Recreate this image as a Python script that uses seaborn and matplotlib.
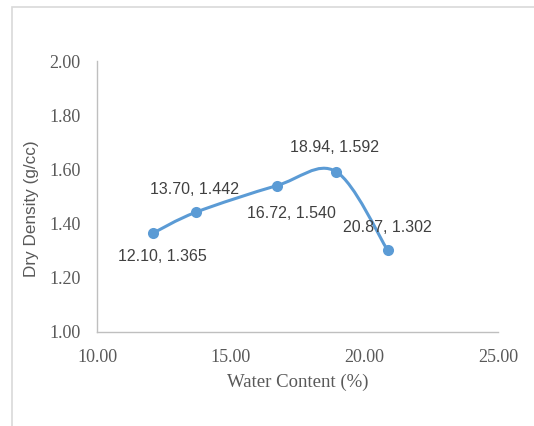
import matplotlib
matplotlib.use("Agg")
import matplotlib.pyplot as plt
import seaborn as sns
import pandas as pd
import numpy as np
from matplotlib.path import Path
from matplotlib.patches import PathPatch, Rectangle

water_content = [12.10, 13.70, 16.72, 18.94, 20.87]
dry_density = [1.365, 1.442, 1.540, 1.592, 1.302]
point_labels = ["12.10, 1.365", "13.70, 1.442", "16.72, 1.540", "18.94, 1.592", "20.87, 1.302"]
# label offsets in points (dx, dy)
label_offsets = [(7, -17), (-1, 16), (11, -20), (-1, 17), (0, 16)]

blue = "#5B9BD5"
grey_text = "#595959"

sns.set_style("white")
fig = plt.figure(figsize=(5.34, 4.26), dpi=100)
ax = fig.add_axes([97 / 534, 1 - 332 / 426, 401 / 534, 271 / 426])

df = pd.DataFrame({"w": water_content, "d": dry_density})

ax.set_xlim(10, 25)
ax.set_ylim(1.0, 2.0)

# Excel-style smoothed line: cubic Bezier through the points (Catmull-Rom),
# control points computed in screen space so the shape matches.
sx, sy = 401 / 15, 271 / 1.0
px = (df["w"].to_numpy() - 10) * sx
py = (df["d"].to_numpy() - 1.0) * sy
verts = [(px[0], py[0])]
codes = [Path.MOVETO]
n = len(px)
for i in range(n - 1):
    p0 = np.array([px[max(i - 1, 0)], py[max(i - 1, 0)]])
    p1 = np.array([px[i], py[i]])
    p2 = np.array([px[i + 1], py[i + 1]])
    p3 = np.array([px[min(i + 2, n - 1)], py[min(i + 2, n - 1)]])
    c1 = p1 + (p2 - p0) / 6
    c2 = p2 - (p3 - p1) / 6
    verts += [tuple(c1), tuple(c2), tuple(p2)]
    codes += [Path.CURVE4] * 3
verts = [(vx / sx + 10, vy / sy + 1.0) for vx, vy in verts]
ax.add_patch(PathPatch(Path(verts, codes), facecolor="none", edgecolor=blue,
                       lw=2.2, capstyle="round", zorder=2))

sns.scatterplot(data=df, x="w", y="d", ax=ax, color=blue, s=64,
                edgecolor=blue, linewidth=0, zorder=3)

for x, y, lab, off in zip(water_content, dry_density, point_labels, label_offsets):
    ax.annotate(lab, (x, y), xytext=off, textcoords="offset points",
                ha="center", va="center", fontsize=11.5, color="#404040",
                family="Liberation Sans")

ax.set_xticks([10, 15, 20, 25])
ax.set_yticks([1.0, 1.2, 1.4, 1.6, 1.8, 2.0])
ax.set_xticklabels([f"{v:.2f}" for v in [10, 15, 20, 25]])
ax.set_yticklabels([f"{v:.2f}" for v in [1.0, 1.2, 1.4, 1.6, 1.8, 2.0]])
for t in ax.get_xticklabels() + ax.get_yticklabels():
    t.set_family("Liberation Serif")
    t.set_fontsize(13)
    t.set_color(grey_text)
ax.tick_params(axis="y", length=0, pad=12)
ax.tick_params(axis="x", length=0, pad=12)

ax.set_xlabel("Water Content (%)", family="Liberation Serif", fontsize=13.5,
              color=grey_text, labelpad=6)
ax.set_ylabel("Dry Density (g/cc)", family="Liberation Sans", fontsize=12.3,
              color=grey_text)
ax.yaxis.set_label_coords(-0.145, 0.455)

for side in ["top", "right"]:
    ax.spines[side].set_visible(False)
for side in ["left", "bottom"]:
    ax.spines[side].set_color("#BFBFBF")
    ax.spines[side].set_linewidth(1)

# chart-area border
fig.patches.append(Rectangle((12 / 534, -0.1), 1.2, 1.1 - 7 / 426,
                             transform=fig.transFigure, fill=False,
                             edgecolor="#D9D9D9", lw=1.2))

fig.savefig("out.png", dpi=100)
